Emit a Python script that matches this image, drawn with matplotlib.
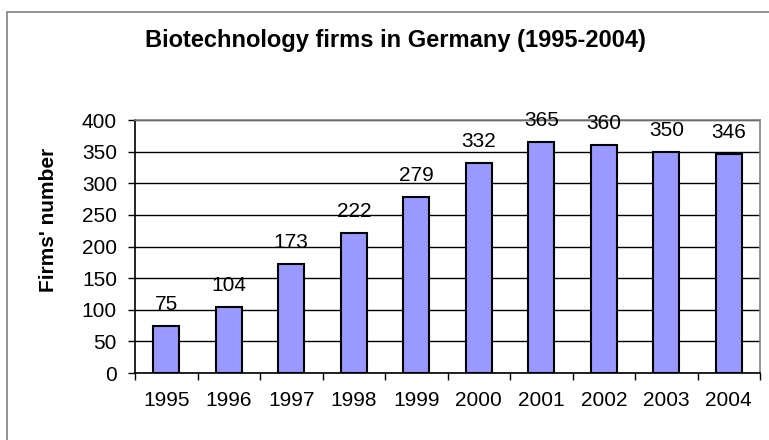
import matplotlib
matplotlib.use('Agg')
import matplotlib.pyplot as plt
from matplotlib.patches import Rectangle

plt.rcParams['font.family'] = ['Liberation Sans', 'DejaVu Sans']

# data
years = ['1995', '1996', '1997', '1998', '1999', '2000', '2001', '2002', '2003', '2004']
firms = [75, 104, 173, 222, 279, 332, 365, 360, 350, 346]

fig = plt.figure(figsize=(7.69, 4.4), dpi=100)

# outer chart frame
fig.patches.append(Rectangle((7/769, -0.1), 1.0, 1 - 12/440 + 0.1, transform=fig.transFigure,
                             fill=False, edgecolor='#808080', linewidth=1.2))

ax = fig.add_axes([135/769, 1 - 373/440, 625/769, 253/440])
x = list(range(len(years)))
ax.bar(x, firms, width=0.42, color='#9999ff', edgecolor='black', linewidth=1.5, zorder=3)

# value labels above bars
for xi, v in zip(x, firms):
    ax.annotate(str(v), (xi, v), xytext=(0, 11.5), textcoords='offset points',
                ha='center', va='baseline', fontsize=15, zorder=4, annotation_clip=False)

ax.set_xlim(-0.5, len(years) - 0.5)
ax.set_ylim(0, 400)
ax.set_yticks(range(0, 401, 50))
ax.set_xticks(x)
ax.set_xticklabels(years, fontsize=15)
ax.tick_params(axis='y', labelsize=15, direction='out', length=5, width=1, pad=8)
ax.tick_params(axis='x', length=0, pad=13)
# x ticks between categories
ax.set_xticks([i - 0.5 for i in range(len(years) + 1)], minor=True)
ax.tick_params(axis='x', which='minor', direction='out', length=5, width=1)

ax.yaxis.grid(True, color='black', linewidth=1)
ax.set_axisbelow(True)
ax.spines['left'].set_color('black')
ax.spines['bottom'].set_color('black')
ax.spines['top'].set_color('#808080')
ax.spines['right'].set_color('#808080')
for s in ax.spines.values():
    s.set_linewidth(1.2)

ax.set_ylabel("Firms' number", fontsize=15, fontweight='bold')
ax.yaxis.set_label_coords(58/769, 0.5, transform=fig.transFigure)
fig.text(395/769, 1 - 47/440, 'Biotechnology firms in Germany (1995-2004)', ha='center', va='baseline',
         fontsize=17, fontweight='bold')

fig.savefig('out.png', dpi=100)
